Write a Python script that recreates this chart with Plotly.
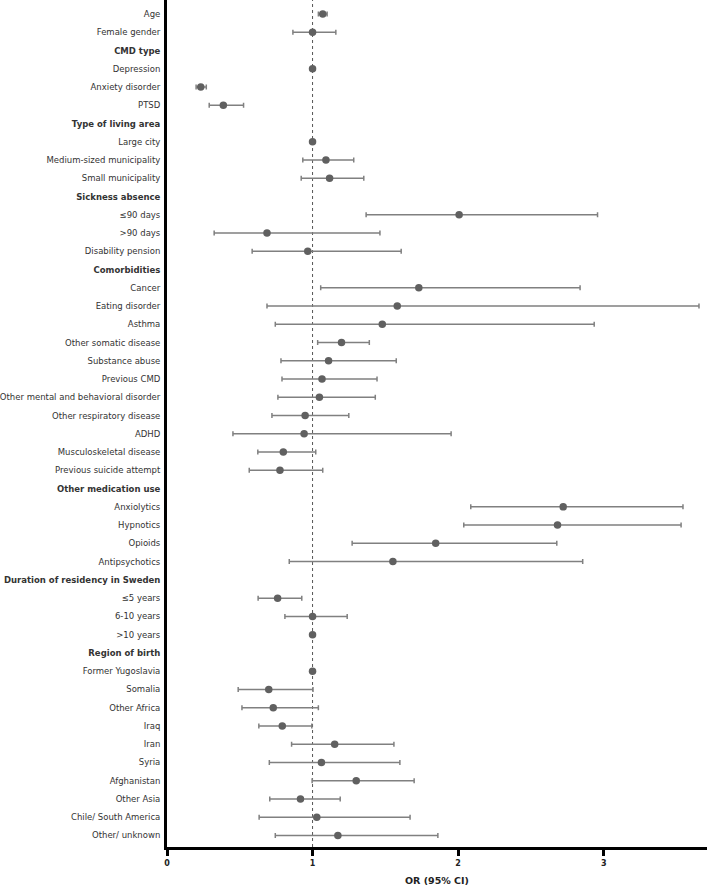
import plotly.graph_objects as go

labels = ["Age", "Female gender", "CMD type", "Depression", "Anxiety disorder", "PTSD",
          "Type of living area", "Large city", "Medium-sized municipality", "Small municipality",
          "Sickness absence", "≤90 days", ">90 days", "Disability pension",
          "Comorbidities", "Cancer", "Eating disorder", "Asthma", "Other somatic disease",
          "Substance abuse", "Previous CMD", "Other mental and behavioral disorder",
          "Other respiratory disease", "ADHD", "Musculoskeletal disease", "Previous suicide attempt",
          "Other medication use", "Anxiolytics", "Hypnotics", "Opioids", "Antipsychotics",
          "Duration of residency in Sweden", "≤5 years", "6-10 years", ">10 years",
          "Region of birth", "Former Yugoslavia", "Somalia", "Other Africa", "Iraq", "Iran",
          "Syria", "Afghanistan", "Other Asia", "Chile/ South America", "Other/ unknown"]

headers = ["CMD type", "Type of living area", "Sickness absence", "Comorbidities",
           "Other medication use", "Duration of residency in Sweden", "Region of birth"]

odds_ratio = [1.07, 1.00, None, 1.00, 0.232, 0.387,
              None, 1.00, 1.092, 1.117,
              None, 2.007, 0.687, 0.967,
              None, 1.73, 1.582, 1.479, 1.199,
              1.11, 1.065, 1.047,
              0.949, 0.942, 0.799, 0.776,
              None, 2.722, 2.683, 1.846, 1.552,
              None, 0.760, 1.00, 1.00,
              None, 1.00, 0.699, 0.730, 0.792, 1.152,
              1.061, 1.30, 0.917, 1.029, 1.174]

ci_low = [1.04, 0.865, None, None, 0.20, 0.29,
          None, None, 0.933, 0.922,
          None, 1.368, 0.324, 0.585,
          None, 1.056, 0.687, 0.744, 1.035,
          0.783, 0.79, 0.762,
          0.721, 0.453, 0.624, 0.565,
          None, 2.087, 2.039, 1.272, 0.84,
          None, 0.626, 0.81, None,
          None, None, 0.489, 0.515, 0.631, 0.856,
          0.703, 0.997, 0.706, 0.633, 0.744]

ci_high = [1.10, 1.16, None, None, 0.27, 0.526,
           None, None, 1.283, 1.352,
           None, 2.958, 1.463, 1.609,
           None, 2.838, 3.655, 2.935, 1.39,
           1.575, 1.443, 1.431,
           1.249, 1.952, 1.022, 1.07,
           None, 3.545, 3.532, 2.678, 2.856,
           None, 0.926, 1.238, None,
           None, None, 1.003, 1.04, 0.995, 1.559,
           1.60, 1.698, 1.19, 1.67, 1.861]

x_ticks = [0, 1, 2, 3]

rows = list(range(len(labels)))
err_plus = [(h - o) if (h is not None and o is not None) else None for o, h in zip(odds_ratio, ci_high)]
err_minus = [(o - l) if (l is not None and o is not None) else None for o, l in zip(odds_ratio, ci_low)]

ticktext = [f"<b>{t}</b>" if t in headers else t for t in labels]

fig = go.Figure()
fig.add_trace(go.Scatter(
    x=odds_ratio, y=rows, mode="markers",
    marker=dict(size=7.5, color="#606060"),
    error_x=dict(type="data", array=err_plus, arrayminus=err_minus, symmetric=False,
                 color="#808080", thickness=1.5, width=2.5),
    showlegend=False, hoverinfo="skip",
))

fig.add_shape(type="line", xref="x", yref="paper", x0=1, x1=1, y0=0, y1=1,
              line=dict(color="#555555", width=1, dash="dot"), layer="below")

fig.update_layout(
    width=709, height=888,
    margin=dict(l=163, r=2, t=0, b=41),
    paper_bgcolor="white", plot_bgcolor="white",
    hovermode=False,
    font=dict(family="DejaVu Sans", size=8.5, color="#333333"),
    xaxis=dict(range=[0, 3.71], tickvals=x_ticks, ticktext=[f"<b>{v}</b>" for v in x_ticks],
               showline=True, linecolor="black", linewidth=3,
               ticks="outside", tickwidth=3, ticklen=6, tickcolor="black",
               tickfont=dict(size=8, color="#222222"),
               showgrid=False, zeroline=False,
               title=dict(text="<b>OR (95% CI)</b>", font=dict(size=9.5, color="#222222"), standoff=11)),
    yaxis=dict(range=[45.635, -0.77], tickvals=rows, ticktext=ticktext,
               showline=True, linecolor="black", linewidth=3,
               ticks="", showgrid=False, zeroline=False,
               tickfont=dict(size=8.5, color="#333333"), ticklabelstandoff=2),
)

fig.write_html("out.html", config={"displayModeBar": False},
               post_script="document.body.style.margin='0';document.body.style.overflow='hidden';")
